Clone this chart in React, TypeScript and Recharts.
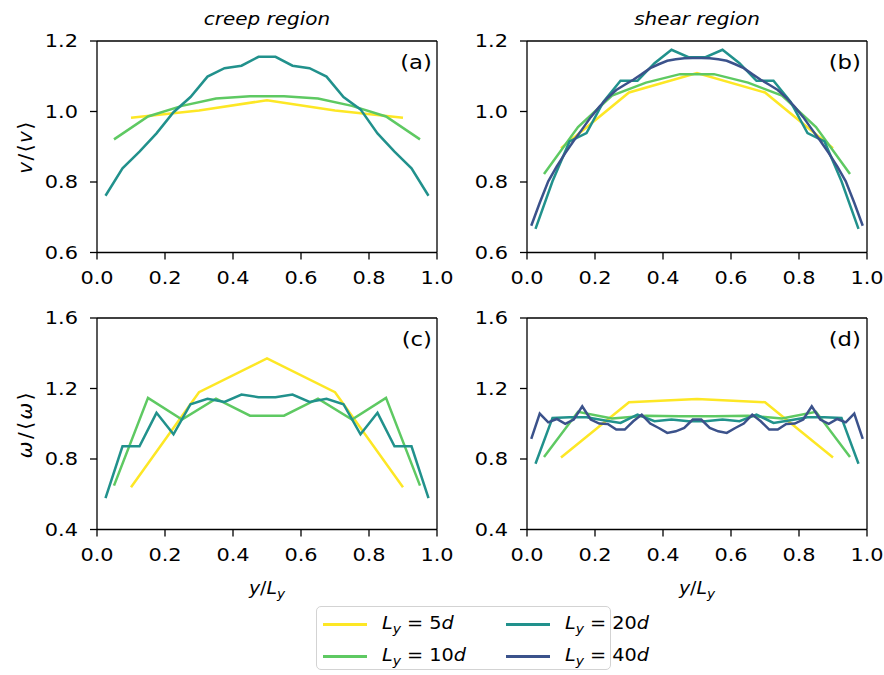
import React from 'react';
import { LineChart, Line, XAxis, YAxis, ReferenceLine } from 'recharts';

// bin centres for each channel width
const X5 = [0.1, 0.3, 0.5, 0.7, 0.9];
const X10 = [0.05, 0.15, 0.25, 0.35, 0.45, 0.55, 0.65, 0.75, 0.85, 0.95];
const X20 = [
  0.025, 0.075, 0.125, 0.175, 0.225, 0.275, 0.325, 0.375, 0.425, 0.475,
  0.525, 0.575, 0.625, 0.675, 0.725, 0.775, 0.825, 0.875, 0.925, 0.975
];
const X40 = [
  0.0125, 0.0375, 0.0625, 0.0875, 0.1125, 0.1375, 0.1625, 0.1875, 0.2125, 0.2375,
  0.2625, 0.2875, 0.3125, 0.3375, 0.3625, 0.3875, 0.4125, 0.4375, 0.4625, 0.4875,
  0.5125, 0.5375, 0.5625, 0.5875, 0.6125, 0.6375, 0.6625, 0.6875, 0.7125, 0.7375,
  0.7625, 0.7875, 0.8125, 0.8375, 0.8625, 0.8875, 0.9125, 0.9375, 0.9625, 0.9875
];

// (a) creep region, v/<v>
const A5 = [0.982, 1.003, 1.032, 1.003, 0.982];
const A10 = [0.921, 0.986, 1.016, 1.037, 1.043, 1.043, 1.037, 1.016, 0.986, 0.921];
const A20 = [
  0.761, 0.839, 0.886, 0.938, 0.998, 1.041, 1.099, 1.123, 1.130, 1.155,
  1.155, 1.130, 1.123, 1.099, 1.041, 1.006, 0.938, 0.886, 0.839, 0.761
];

// (b) shear region, v/<v>
const B5 = [0.896, 1.054, 1.109, 1.054, 0.896];
const B10 = [0.823, 0.956, 1.045, 1.082, 1.106, 1.106, 1.082, 1.045, 0.956, 0.823];
const B20 = [
  0.667, 0.802, 0.915, 0.939, 1.028, 1.087, 1.087, 1.137, 1.175, 1.154,
  1.154, 1.175, 1.137, 1.087, 1.087, 1.028, 0.939, 0.915, 0.802, 0.667
];
const B40 = [
  0.676, 0.741, 0.802, 0.844, 0.882, 0.917, 0.950, 0.984, 1.013, 1.039,
  1.061, 1.076, 1.090, 1.106, 1.123, 1.134, 1.144, 1.148, 1.151, 1.152,
  1.152, 1.151, 1.148, 1.144, 1.134, 1.123, 1.106, 1.090, 1.076, 1.061,
  1.039, 1.013, 0.984, 0.950, 0.917, 0.882, 0.844, 0.802, 0.741, 0.676
];

// (c) creep region, w/<w>
const C5 = [0.640, 1.179, 1.371, 1.179, 0.640];
const C10 = [0.649, 1.147, 1.024, 1.142, 1.046, 1.046, 1.142, 1.024, 1.147, 0.649];
const C20 = [
  0.578, 0.872, 0.872, 1.062, 0.940, 1.111, 1.142, 1.124, 1.166, 1.151,
  1.151, 1.166, 1.124, 1.142, 1.111, 0.940, 1.062, 0.872, 0.872, 0.578
];

// (d) shear region, w/<w>
const D5 = [0.809, 1.122, 1.141, 1.122, 0.809];
const D10 = [0.811, 1.068, 1.030, 1.046, 1.042, 1.042, 1.046, 1.030, 1.068, 0.811];
const D20 = [
  0.773, 1.033, 1.037, 1.037, 1.020, 1.005, 1.052, 1.014, 1.024, 1.014,
  1.014, 1.024, 1.014, 1.052, 1.005, 1.020, 1.037, 1.037, 1.033, 0.773
];
const D40 = [
  0.914, 1.058, 1.008, 1.027, 0.999, 1.024, 1.099, 1.024, 1.001, 0.999,
  0.967, 0.967, 1.014, 1.052, 1.001, 0.976, 0.948, 0.957, 0.976, 1.024,
  1.024, 0.976, 0.957, 0.948, 0.976, 1.001, 1.052, 1.014, 0.967, 0.967,
  0.999, 1.001, 1.024, 1.099, 1.024, 0.999, 1.027, 1.008, 1.058, 0.914
];

const X_TICKS = [0, 0.2, 0.4, 0.6, 0.8, 1.0];
const V_TICKS = [0.6, 0.8, 1.0, 1.2];
const W_TICKS = [0.4, 0.8, 1.2, 1.6];

const SERIES = [
  { key: '5', name: '5', color: '#fde725' },
  { key: '10', name: '10', color: '#5ec962' },
  { key: '20', name: '20', color: '#21918c' },
  { key: '40', name: '40', color: '#3b528b' }
];

const FONT = '"DejaVu Sans", sans-serif';
// the reference glyphs come out a bit wider than plain DejaVu
const STRETCH = 1.14;

function pts(xs: number[], ys: number[]) {
  return xs.map((x, i) => ({ x, v: ys[i] }));
}

type Curve = { key: string; data: { x: number; v: number }[] };

type PanelProps = {
  left: number;
  top: number;
  curves: Curve[];
  yDomain: [number, number];
  yTicks: number[];
};

const axisStroke = { stroke: '#000', strokeWidth: 1.3 };

function XTick(props: any) {
  const { x, y, payload } = props;
  return (
    <g transform={`translate(${x},${y}) scale(${STRETCH},1)`}>
      <text x={0} y={0} dy="0.71em" textAnchor="middle" fontSize={18.3} fontFamily={FONT} fill="#000">
        {Number(payload.value).toFixed(1)}
      </text>
    </g>
  );
}

function YTick(props: any) {
  const { x, y, payload } = props;
  return (
    <g transform={`translate(${x},${y}) scale(${STRETCH},1)`}>
      <text x={0} y={0} dy="0.355em" textAnchor="end" fontSize={18.3} fontFamily={FONT} fill="#000">
        {Number(payload.value).toFixed(1)}
      </text>
    </g>
  );
}

function Panel({ left, top, curves, yDomain, yTicks }: PanelProps) {
  return (
    <div style={{ position: 'absolute', left, top }}>
      <LineChart width={470} height={300} margin={{ top: 41, right: 33, bottom: 7.5, left: 37 }}>
        <XAxis
          type="number"
          dataKey="x"
          domain={[0, 1]}
          ticks={X_TICKS}
          interval={0}
          tick={(p: any) => <XTick {...p} />}
          tickSize={7}
          tickMargin={12}
          axisLine={axisStroke}
          tickLine={axisStroke}
          height={40}
        />
        <YAxis
          type="number"
          domain={yDomain}
          ticks={yTicks}
          interval={0}
          tick={(p: any) => <YTick {...p} />}
          tickSize={7}
          tickMargin={12}
          axisLine={axisStroke}
          tickLine={axisStroke}
          width={60}
        />
        {/* closing top and right spines */}
        <ReferenceLine y={yDomain[1]} stroke="#000" strokeWidth={1.3} />
        <ReferenceLine x={1} stroke="#000" strokeWidth={1.3} />
        {curves.map((c) => {
          const s = SERIES.find((q) => q.key === c.key)!;
          return (
            <Line
              key={c.key}
              data={c.data}
              dataKey="v"
              type="linear"
              stroke={s.color}
              strokeWidth={2.5}
              dot={false}
              activeDot={false}
              isAnimationActive={false}
            />
          );
        })}
      </LineChart>
    </div>
  );
}

function Txt({ x, y, size = 18, italic = false, anchor = 'center', rotate = false, spacing = 0, sx = STRETCH, children }: any) {
  const tx = anchor === 'right' ? '-100%' : '-50%';
  return (
    <div
      style={{
        position: 'absolute',
        left: x,
        top: y,
        transform: `translate(${tx}, -50%)${rotate ? ' rotate(-90deg)' : ''} scale(${sx},1)`,
        transformOrigin: anchor === 'right' ? 'right center' : 'center center',
        fontFamily: FONT,
        fontSize: size,
        fontStyle: italic ? 'italic' : 'normal',
        letterSpacing: spacing,
        whiteSpace: 'nowrap',
        lineHeight: 1,
        color: '#000'
      }}
    >
      {children}
    </div>
  );
}

const subStyle: React.CSSProperties = { fontSize: 13, fontStyle: 'italic', verticalAlign: '-4px' };

function Legend() {
  return (
    <div
      style={{
        position: 'absolute',
        left: 316,
        top: 606,
        width: 295,
        height: 64,
        border: '1px solid #d3d3d3',
        borderRadius: 5,
        boxSizing: 'border-box',
        background: '#fff'
      }}
    >
      {SERIES.map((s, i) => {
        const col = Math.floor(i / 2);
        const row = i % 2;
        return (
          <div
            key={s.key}
            style={{
              position: 'absolute',
              left: 6 + col * 183,
              top: 17 + row * 32,
              transform: 'translateY(-50%)',
              display: 'flex',
              alignItems: 'center',
              fontFamily: FONT,
              fontSize: 18,
              whiteSpace: 'nowrap'
            }}
          >
            <span style={{ display: 'inline-block', width: 44, height: 3, background: s.color, marginRight: 15 }} />
            <span style={{ display: 'inline-block', transform: 'scale(1.07,1)', transformOrigin: 'left center' }}>
              <i>L</i>
              <span style={subStyle}>y</span> = {s.name}
              <i>d</i>
            </span>
          </div>
        );
      })}
    </div>
  );
}

export default function App() {
  return (
    <div
      style={{
        position: 'absolute',
        left: 0,
        top: 0,
        width: 884,
        height: 675,
        overflow: 'hidden',
        background: '#fff'
      }}
    >
      <Panel
        left={0}
        top={0}
        yDomain={[0.6, 1.2]}
        yTicks={V_TICKS}
        curves={[
          { key: '5', data: pts(X5, A5) },
          { key: '10', data: pts(X10, A10) },
          { key: '20', data: pts(X20, A20) }
        ]}
      />
      <Panel
        left={430}
        top={0}
        yDomain={[0.6, 1.2]}
        yTicks={V_TICKS}
        curves={[
          { key: '5', data: pts(X5, B5) },
          { key: '10', data: pts(X10, B10) },
          { key: '20', data: pts(X20, B20) },
          { key: '40', data: pts(X40, B40) }
        ]}
      />
      <Panel
        left={0}
        top={277.3}
        yDomain={[0.4, 1.6]}
        yTicks={W_TICKS}
        curves={[
          { key: '5', data: pts(X5, C5) },
          { key: '10', data: pts(X10, C10) },
          { key: '20', data: pts(X20, C20) }
        ]}
      />
      <Panel
        left={430}
        top={277.3}
        yDomain={[0.4, 1.6]}
        yTicks={W_TICKS}
        curves={[
          { key: '5', data: pts(X5, D5) },
          { key: '10', data: pts(X10, D10) },
          { key: '20', data: pts(X20, D20) },
          { key: '40', data: pts(X40, D40) }
        ]}
      />

      <Txt x={267} y={20} size={17.5} italic>creep region</Txt>
      <Txt x={697} y={20} size={17.5} italic>shear region</Txt>

      <Txt x={432} y={62} size={20} anchor="right">(a)</Txt>
      <Txt x={861} y={62} size={20} anchor="right">(b)</Txt>
      <Txt x={432} y={339} size={20} anchor="right">(c)</Txt>
      <Txt x={861} y={339} size={20} anchor="right">(d)</Txt>

      <Txt x={25} y={147} size={20} spacing={1.5} sx={1} rotate>
        <i>v</i>/⟨<i>v</i>⟩
      </Txt>
      <Txt x={25} y={424} size={20} spacing={2.5} sx={1} rotate>
        <i>ω</i>/⟨<i>ω</i>⟩
      </Txt>

      <Txt x={267} y={589} sx={1.05}>
        <i>y</i>/<i>L</i>
        <span style={subStyle}>y</span>
      </Txt>
      <Txt x={697} y={589} sx={1.05}>
        <i>y</i>/<i>L</i>
        <span style={subStyle}>y</span>
      </Txt>

      <Legend />
    </div>
  );
}
